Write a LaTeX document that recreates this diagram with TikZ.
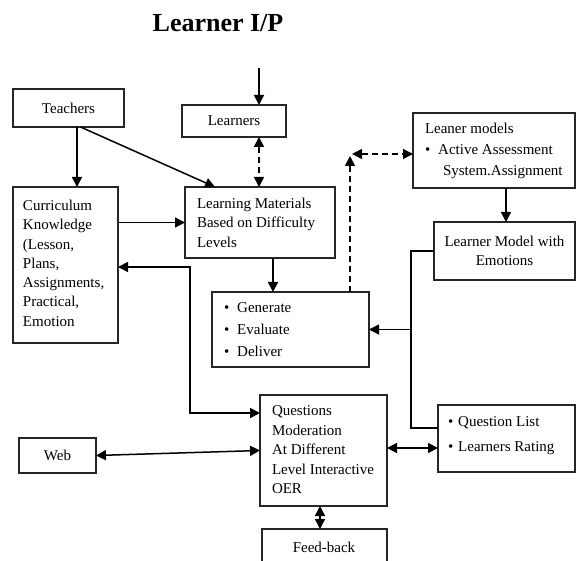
\documentclass[tikz,border=0pt]{standalone}
\usepackage{fontspec}
\setmainfont{Liberation Serif}
\usetikzlibrary{arrows.meta,fit,calc}
\begin{document}
\begin{tikzpicture}[x=1pt,y=-1pt,
 boxst/.style={draw=black!85, line width=1.6pt, inner sep=0pt, outer sep=0pt},
 txt/.style={inner sep=0pt, outer sep=0pt, align=left, anchor=north west, font=\fontsize{15}{19.3}\selectfont},
 ctxt/.style={inner sep=0pt, outer sep=0pt, align=center, anchor=center, font=\fontsize{15}{19.3}\selectfont},
 tip/.tip={Triangle[length=10pt,width=10pt]},
 arr/.style={line width=1.5pt, -tip},
 darr/.style={line width=1.5pt, tip-tip},
 plain/.style={line width=1.5pt},
 dsh/.style={dash pattern=on 6pt off 4pt}
 ]
\useasboundingbox (0,0) rectangle (576,561);
\clip (0,0) rectangle (576,561);

% title
\node[inner sep=0pt, anchor=base, font=\fontsize{26}{30}\selectfont\bfseries] (title) at (218,32) {Learner I/P};

% boxes
\node[boxst, fit={(13,89)(124,127)}] (teach) {};
\node[boxst, fit={(182,105)(286,137)}] (learners) {};
\node[boxst, fit={(185,187)(335,258)}] (lm) {};
\node[boxst, fit={(13,187)(118,343)}] (cur) {};
\node[boxst, fit={(212,292)(369,367)}] (gen) {};
\node[boxst, fit={(413,113)(575,188)}] (lmod) {};
\node[boxst, fit={(434,222)(575,280)}] (lme) {};
\node[boxst, fit={(438,405)(575,472)}] (ql) {};
\node[boxst, fit={(260,395)(387,506)}] (qm) {};
\node[boxst, fit={(19,438)(96,473)}] (web) {};
\node[boxst, fit={(262,529)(387,580)}] (fb) {};

% texts
\node[ctxt] (tteach) at (teach.center) {Teachers};
\node[ctxt] (tlearners) at (learners.center) {Learners};
\node[ctxt] (tweb) at (web.center) {Web};
\node[ctxt] (tlme) at (lme.center) {Learner Model with\\Emotions};
\node[ctxt, anchor=base] (tfb) at (324,552) {Feed-back};
\node[txt] (tlm) at (197,198) {Learning Materials\\Based on Difficulty\\Levels};
\node[txt] (tcur) at (23,200) {Curriculum\\Knowledge\\(Lesson,\\Plans,\\Assignments,\\Practical,\\Emotion};
\node[txt, font=\fontsize{15}{22}\selectfont] (tgen) at (224,303) {\textbullet\hspace{8pt}Generate\\\textbullet\hspace{8pt}Evaluate\\\textbullet\hspace{8pt}Deliver};
\node[txt, font=\fontsize{15}{21}\selectfont] (tlmod) at (425,123) {Leaner models\\\textbullet\hspace{8pt}Active Assessment\\\hspace{18pt}System.Assignment};
\node[txt, font=\fontsize{15}{25}\selectfont] (tql) at (448,417) {\textbullet\hspace{5pt}Question List\\\textbullet\hspace{5pt}Learners Rating};
\node[txt, font=\fontsize{15}{19.4}\selectfont] (tqm) at (272,406) {Questions\\Moderation\\At Different\\Level Interactive\\OER};

% helper coordinates
\coordinate (ltop) at (259,68);
\coordinate (tx) at (77,0);
\coordinate (gx) at (273,0);
\coordinate (dc) at (350,154);
\coordinate (mx) at (506,0);
\coordinate (vx) at (411,0);
\coordinate (qly) at (0,428);
\coordinate (qqy) at (0,448);
\coordinate (ce) at (190,267);
\coordinate (qy) at (0,413);
\coordinate (fx) at (320,0);

% connectors
\draw[arr] (ltop) -- (ltop |- learners.north);
\draw[darr, dsh] (ltop |- learners.south) -- (ltop |- lm.north);
\draw[arr] (tx |- teach.south) -- (tx |- cur.north);
\draw[arr] ([xshift=12pt]teach.south) -- ([xshift=30pt]lm.north west);
\draw[arr] (lm.west -| cur.east) -- (lm.west);
\draw[arr] (gx |- lm.south) -- (gx |- gen.north);
\draw[arr, dsh] (dc |- gen.north) -- ($(dc)+(0,2)$);
\draw[darr, dsh] ($(dc)+(2,0)$) -- (dc -| lmod.west);
\draw[arr] (mx |- lmod.south) -- (mx |- lme.north);
\draw[plain] (lme.west) -| (vx |- qly) -- (ql.west |- qly);
\draw[arr] (vx |- gen.east) -- (gen.east);
\draw[darr] (qm.east |- qqy) -- (ql.west |- qqy);
\draw[darr] (web.east) -- (qm.west);
\draw[darr] (cur.east |- ce) -- (ce) |- (qm.west |- qy);
\draw[darr] (fx |- qm.south) -- (fx |- fb.north);
\end{tikzpicture}
\end{document}
